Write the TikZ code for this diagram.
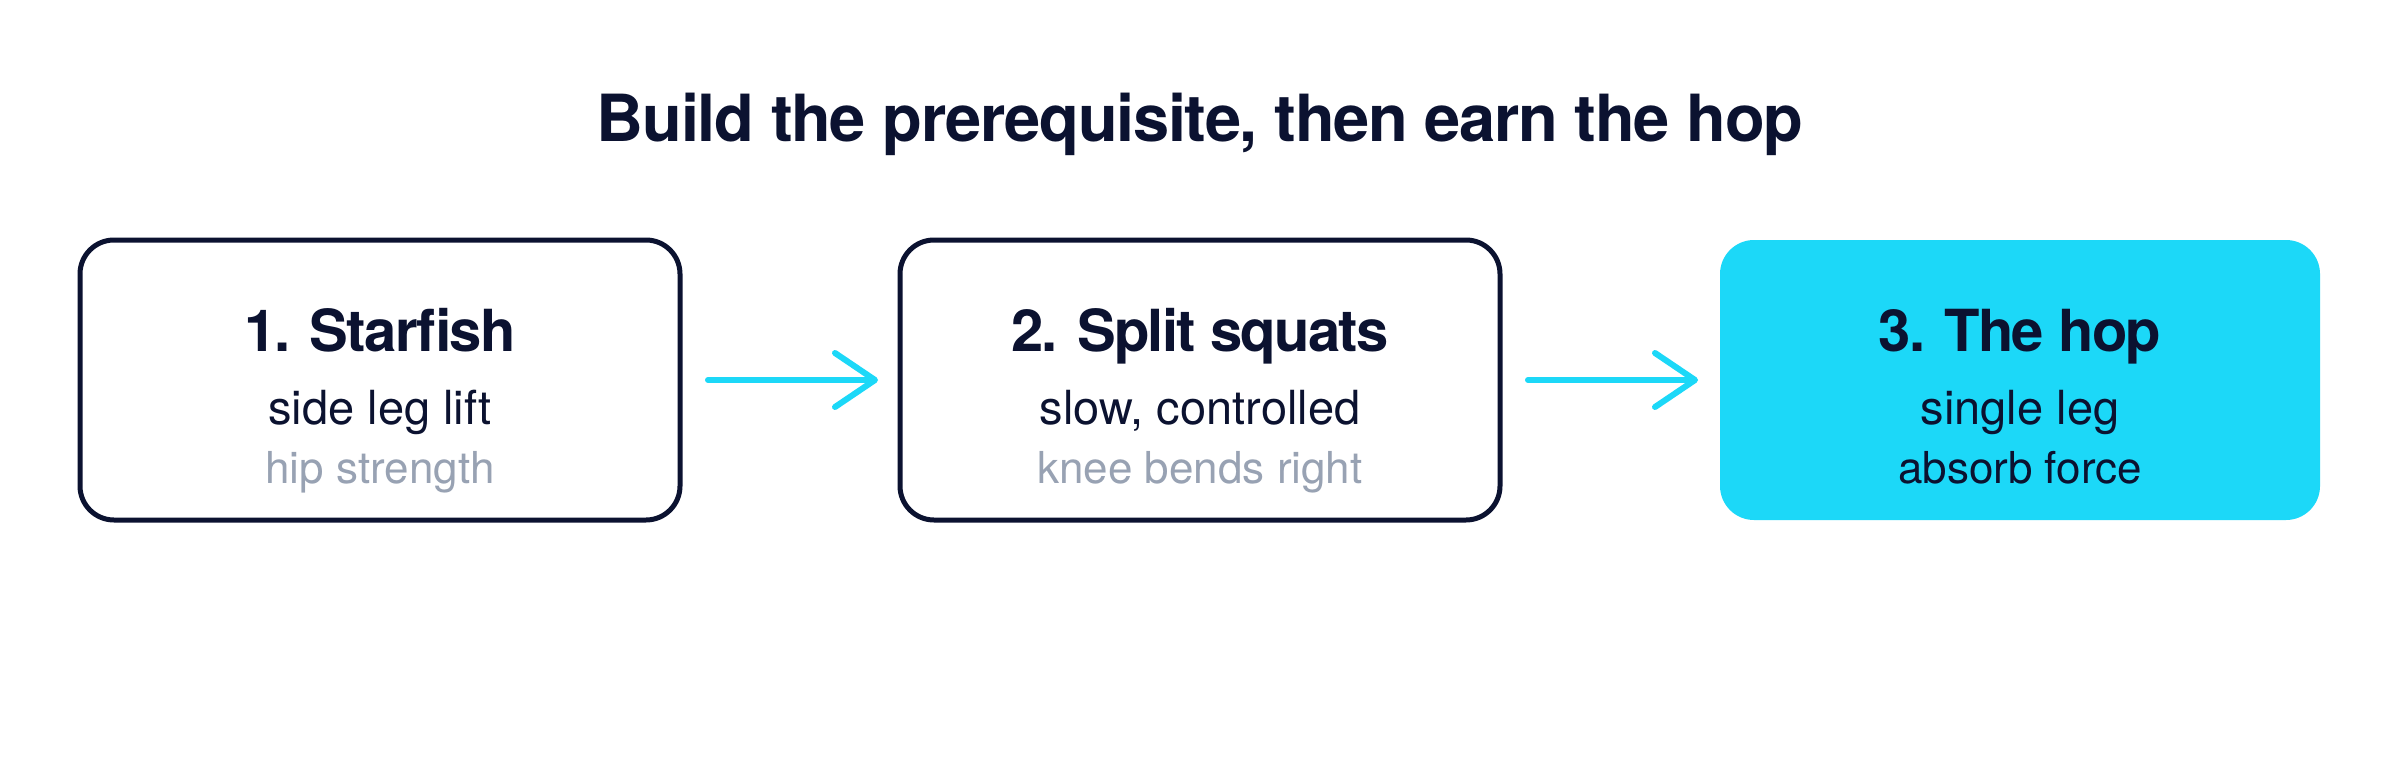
\documentclass[tikz,border=0pt]{standalone}
\usepackage{fontspec}
\setmainfont{TeX Gyre Heros}
\usetikzlibrary{arrows.meta}
\definecolor{navy}{HTML}{0B1230}
\definecolor{cyanx}{HTML}{1CD8F8}
\definecolor{grayx}{HTML}{98A2B3}
\tikzset{
  stepbox/.style={draw=navy, line width=5pt, rounded corners=34pt, fill=white},
  hopbox/.style={fill=cyanx, rounded corners=34pt},
  boxtitle/.style={anchor=base, text=navy, font=\fontsize{58}{70}\selectfont\bfseries\addfontfeatures{LetterSpace=-3}},
  boxline/.style={anchor=base, text=navy, font=\fontsize{47}{56}\selectfont},
  boxnote/.style={anchor=base, text=grayx, font=\fontsize{44}{52}\selectfont},
  boxnotedark/.style={anchor=base, text=navy, font=\fontsize{44}{52}\selectfont},
  flow/.style={draw=cyanx, line width=6pt, line cap=round,
    -{Straight Barb[length=40pt,width=54pt,line cap=round,line join=round]}},
}
\begin{document}
\begin{tikzpicture}[x=1pt,y=-1pt]
\useasboundingbox[fill=white] (0,0) rectangle (2400,760);
\node[anchor=base, text=navy, font=\fontsize{65}{78}\selectfont\bfseries\addfontfeatures{LetterSpace=-2}] (title) at (1200,141) {Build the prerequisite, then earn the hop};
% boxes
\path[stepbox] (80,240) rectangle (680,520);
\coordinate (b1w) at (80,380); \coordinate (b1e) at (680,380);
\path[stepbox] (900,240) rectangle (1500,520);
\coordinate (b2w) at (900,380); \coordinate (b2e) at (1500,380);
\path[hopbox] (1720,240) rectangle (2320,520);
\coordinate (b3w) at (1720,380);
% texts
\node[boxtitle] (t1) at (380,351) {1. Starfish};
\node[boxline] (l1) at (380,424) {side leg lift};
\node[boxnote] (n1) at (380,483) {hip strength};
\node[boxtitle] (t2) at (1200,351) {2. Split squats};
\node[boxline] (l2) at (1200,424) {slow, controlled};
\node[boxnote] (n2) at (1200,483) {knee bends right};
\node[boxtitle] (t3) at (2020,351) {3. The hop};
\node[boxline] (l3) at (2020,424) {single leg};
\node[boxnotedark] (n3) at (2020,483) {absorb force};
% arrows
\draw[flow, shorten <=28pt, shorten >=22pt] (b1e) -- (b2w);
\draw[flow, shorten <=28pt, shorten >=22pt] (b2e) -- (b3w);
\end{tikzpicture}
\end{document}
